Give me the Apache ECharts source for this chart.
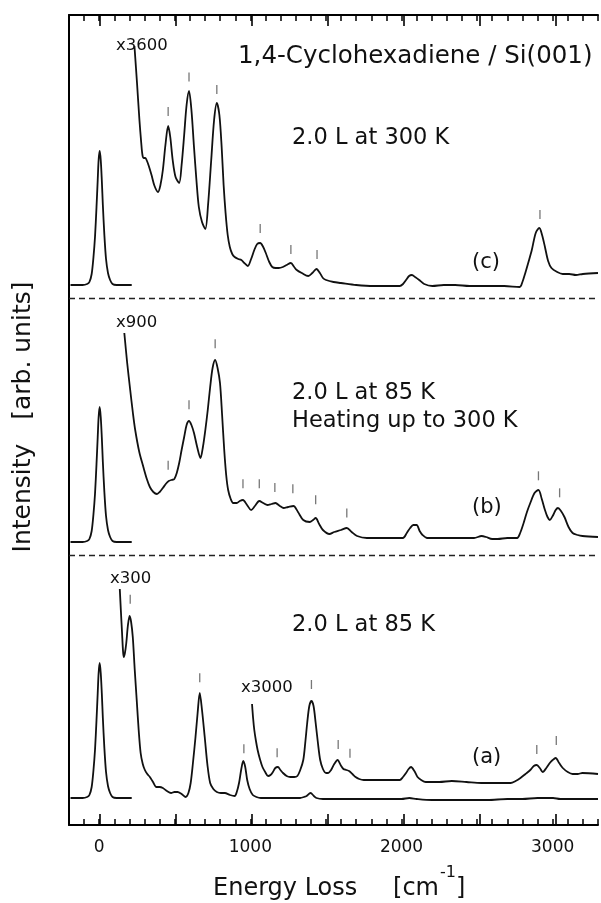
<!DOCTYPE html>
<html><head><meta charset="utf-8">
<script src="https://cdn.jsdelivr.net/npm/echarts@6/dist/echarts.min.js"></script>
<style>html,body{margin:0;padding:0;background:#fff}#c{width:601px;height:903px}</style>
</head><body><div id="c"></div>
<script>
// Energy loss [cm^-1] vs. intensity (vertical position, arbitrary units, panels stacked)
const xLabels = [0, 1000, 2000, 3000];
const separators = [526.5, 269.5];

const elasticC = [[-190,540],[-110,540],[-80,541],[-65,543],[-50,551],[-38,568],[-28,588],[-18,618],[-10,645],[-4,665],[3,674],[10,665],[17,645],[24,620],[34,590],[45,566],[58,552],[72,545],[88,541],[115,540],[215,540]];
const elasticB = [[-190,283],[-110,283],[-80,284],[-65,286],[-50,294],[-38,311],[-28,331],[-18,361],[-10,388],[-4,408],[3,418],[10,408],[17,388],[24,363],[34,333],[45,309],[58,295],[72,288],[88,284],[115,283],[215,283]];
const elasticA = [[-190,27],[-110,27],[-80,28],[-65,30],[-50,38],[-38,55],[-28,75],[-18,105],[-10,132],[-4,152],[3,162],[10,152],[17,132],[24,107],[34,77],[45,53],[58,39],[72,32],[88,28],[115,27],[215,27]];

const specC = [[233,779],[250,742],[266,705],[278,682],[286,670],[295,667],[305,667],[316,664],[328,659],[346,650],[366,639],[389,633],[405,640],[421,655],[438,680],[456,699],[470,688],[486,665],[505,648],[529,642],[545,660],[562,690],[578,720],[594,734],[610,715],[627,678],[643,645],[659,618],[680,603],[702,596],[720,620],[741,665],[760,705],[778,722],[795,710],[810,678],[823,640],[836,612],[850,590],[864,578],[880,571],[896,568],[920,566],[940,565],[960,562],[983,559],[1005,566],[1026,575],[1045,581],[1065,582],[1085,578],[1102,572],[1125,563],[1145,558],[1168,557],[1188,557],[1215,558],[1240,560],[1268,562],[1290,558],[1307,555],[1340,552],[1383,549],[1410,552],[1437,556],[1460,552],[1480,547],[1501,545],[1550,543],[1599,542],[1700,540],[1815,539],[1900,539],[1988,539],[2010,541],[2030,545],[2050,549],[2069,550],[2090,548],[2117,545],[2150,541],[2204,539],[2280,540],[2355,540],[2450,539],[2571,539],[2680,539],[2782,538],[2800,543],[2819,552],[2840,563],[2862,575],[2888,592],[2912,597],[2930,590],[2949,578],[2970,564],[2992,557],[3030,553],[3067,551],[3110,551],[3154,550],[3200,551],[3300,552]];

const specB = [[166,492],[185,462],[205,435],[222,413],[238,395],[265,373],[292,358],[315,346],[335,338],[358,333],[382,331],[400,333],[421,337],[440,341],[460,344],[478,345],[497,346],[513,352],[529,362],[545,375],[562,388],[578,400],[594,404],[610,400],[627,392],[648,378],[670,367],[686,378],[702,395],[718,415],[734,438],[750,457],[767,465],[783,457],[799,442],[813,410],[827,375],[840,350],[853,335],[870,326],[886,322],[910,322],[930,324],[951,325],[978,320],[1005,315],[1030,319],[1059,324],[1085,322],[1113,320],[1140,321],[1166,322],[1195,319],[1220,317],[1250,318],[1285,319],[1315,313],[1350,305],[1393,303],[1415,305],[1432,307],[1455,301],[1480,295],[1523,291],[1555,293],[1600,295],[1638,297],[1670,293],[1706,289],[1771,287],[1850,287],[1930,287],[2009,287],[2035,292],[2057,297],[2078,300],[2100,300],[2120,294],[2139,290],[2170,287],[2204,287],[2300,287],[2398,287],[2480,287],[2530,289],[2560,288],[2600,286],[2636,286],[2700,287],[2765,287],[2785,292],[2808,302],[2830,313],[2852,322],[2880,332],[2906,335],[2928,326],[2949,315],[2966,308],[2981,305],[3000,309],[3020,315],[3035,317],[3055,314],[3078,308],[3105,298],[3132,292],[3165,290],[3197,289],[3300,288]];

const specA = [[136,236],[143,215],[151,192],[157,175],[162,168],[170,172],[179,182],[190,200],[201,209],[211,203],[222,188],[235,155],[248,125],[261,95],[274,72],[288,61],[302,55],[318,51],[335,48],[356,43],[378,38],[400,38],[421,37],[448,34],[475,32],[498,33],[518,33],[545,31],[572,28],[590,32],[605,42],[620,62],[637,88],[651,112],[665,132],[680,115],[698,88],[716,60],[734,42],[755,36],[778,33],[805,32],[831,32],[865,30],[896,29],[910,33],[925,42],[940,56],[953,64],[966,58],[979,45],[995,36],[1016,30],[1040,28],[1069,27],[1120,27],[1177,27],[1250,27],[1329,27],[1355,28],[1372,29],[1398,32],[1420,29],[1437,27],[1480,26],[1523,26],[1600,26],[1700,26],[1800,26],[1900,26],[2000,26],[2052,27],[2100,26],[2200,25],[2300,25],[2400,25],[2500,25],[2571,25],[2700,26],[2800,26],[2900,27],[3003,27],[3050,26],[3150,26],[3300,26]];

const specA2 = [[1011,121],[1018,107],[1026,95],[1037,84],[1048,75],[1063,66],[1080,58],[1098,53],[1117,49],[1133,50],[1149,53],[1165,57],[1182,58],[1199,55],[1216,52],[1240,49],[1264,48],[1290,48],[1311,49],[1330,55],[1350,65],[1363,82],[1376,102],[1390,119],[1404,124],[1418,119],[1432,102],[1447,82],[1462,65],[1480,56],[1501,52],[1515,52],[1534,55],[1555,61],[1577,65],[1597,60],[1616,56],[1635,55],[1653,54],[1675,51],[1696,48],[1720,46],[1750,45],[1810,45],[1879,45],[1940,45],[1988,45],[2010,48],[2030,52],[2047,56],[2063,58],[2085,54],[2106,48],[2130,45],[2160,43],[2250,43],[2333,44],[2430,43],[2528,42],[2620,42],[2722,42],[2755,44],[2787,47],[2820,51],[2852,55],[2875,59],[2895,60],[2915,57],[2934,53],[2958,57],[2981,62],[3000,65],[3020,67],[3043,62],[3067,57],[3100,53],[3132,51],[3165,51],[3197,52],[3300,51]];

const ticksC = [[456,713.5],[594,748],[778,735.5],[1065,596.5],[1268,575.5],[1441,570.5],[2916,610.5]];
const ticksB = [[456,359.7],[594,420.3],[767,481.2],[951,341.2],[1059,341.2],[1162,337.5],[1281,336.2],[1432,325.3],[1638,312],[2906,349.2],[3046,332.2]];
const ticksA = [[205,225.8],[665,147.2],[957,76.2],[1177,72.2],[1404,140.5],[1581,80.5],[1659,71.7],[2895,75.5],[3024,84.5]];

const X_MIN = -200, X_MAX = 3300;
const FONT = 'DejaVu Sans';
const INK = '#111';

const cats = [];
for (let v = X_MIN; v <= X_MAX; v += 100) cats.push(String(v));

const lineSeries = (data) => ({
  type: 'line', data, xAxisIndex: 0, yAxisIndex: 0, showSymbol: false, smooth: 0.3,
  lineStyle: {color: INK, width: 1.8}, silent: true, z: 3
});
const tickSeries = (data) => ({
  type: 'scatter', data, xAxisIndex: 0, yAxisIndex: 0, symbol: 'rect', symbolSize: [1.3, 9],
  itemStyle: {color: '#555'}, silent: true, z: 4
});

const valAxisBase = {
  type: 'value', min: X_MIN, max: X_MAX, interval: 100, gridIndex: 0,
  axisLine: {show: true, onZero: false, lineStyle: {color: '#000', width: 2}},
  axisTick: {show: true, inside: true, length: 6, lineStyle: {color: '#000', width: 1.5}},
  splitLine: {show: false}
};
const catAxisBase = {
  type: 'category', data: cats, boundaryGap: false, gridIndex: 1,
  axisLine: {show: false},
  axisTick: {show: true, inside: true, length: 11, interval: (i, v) => Number(v) % 500 === 0,
    lineStyle: {color: '#000', width: 1.6}},
  axisLabel: {show: false}, splitLine: {show: false}
};

const txt = (text, x, y, size, extra) => Object.assign({
  type: 'text', x, y, silent: true,
  style: {text, fontSize: size, fontFamily: FONT, fill: INK, align: 'left', verticalAlign: 'middle'}
}, extra || {});

const option = {
  animation: false,
  backgroundColor: '#fff',
  grid: [
    {left: 69, right: -8, top: 15, bottom: 78},
    {left: 69, right: -8, top: 15, bottom: 78}
  ],
  xAxis: [
    Object.assign({}, valAxisBase, {position: 'bottom',
      axisLabel: {show: true, margin: 14, fontSize: 17, fontFamily: FONT, color: INK,
        formatter: v => xLabels.includes(v) ? String(v) : ''}}),
    Object.assign({}, valAxisBase, {position: 'top', axisLabel: {show: false}}),
    Object.assign({}, catAxisBase, {position: 'bottom'}),
    Object.assign({}, catAxisBase, {position: 'top'})
  ],
  yAxis: [
    {type: 'value', min: 0, max: 810, gridIndex: 0, position: 'left',
      axisLine: {show: true, onZero: false, lineStyle: {color: '#000', width: 2}},
      axisTick: {show: false}, axisLabel: {show: false}, splitLine: {show: false}},
    {type: 'value', min: 0, max: 810, gridIndex: 1, show: false}
  ],
  series: [
    Object.assign(lineSeries(elasticC), {
      markLine: {silent: true, symbol: 'none', label: {show: false},
        lineStyle: {type: [6, 4], color: '#222', width: 1.4},
        data: separators.map(v => ({yAxis: v}))}
    }),
    lineSeries(specC),
    lineSeries(elasticB),
    lineSeries(specB),
    lineSeries(elasticA),
    lineSeries(specA),
    lineSeries(specA2),
    tickSeries(ticksC),
    tickSeries(ticksB),
    tickSeries(ticksA)
  ],
  graphic: [
    txt('1,4-Cyclohexadiene / Si(001)', 238, 57, 24.5),
    txt('x3600', 116, 46, 16.5),
    txt('2.0 L at 300 K', 292, 138, 22.5),
    txt('(c)', 472, 263, 21),
    txt('x900', 116, 323, 16.5),
    txt('2.0 L at 85 K', 292, 393, 22.5),
    txt('Heating up to 300 K', 292, 421.5, 22.5),
    txt('(b)', 472, 507.5, 21),
    txt('x300', 110, 579, 16.5),
    txt('2.0 L at 85 K', 292, 625, 22.5),
    txt('x3000', 241, 688, 16.5),
    txt('(a)', 472, 758, 21),
    txt('Intensity   [arb. units]', 23, 417, 25, {rotation: Math.PI / 2,
      style: {text: 'Intensity   [arb. units]', fontSize: 25, fontFamily: FONT, fill: INK, align: 'center', verticalAlign: 'middle'}}),
    txt('Energy Loss', 213, 889, 24),
    txt('[cm', 439, 889, 24, {style: {text: '[cm', fontSize: 24, fontFamily: FONT, fill: INK, align: 'right', verticalAlign: 'middle'}}),
    txt('-1', 440, 873, 16),
    txt(']', 456, 889, 24)
  ]
};

const chart = echarts.init(document.getElementById('c'), null, {renderer: 'canvas'});
chart.setOption(option);
</script>
</body></html>
